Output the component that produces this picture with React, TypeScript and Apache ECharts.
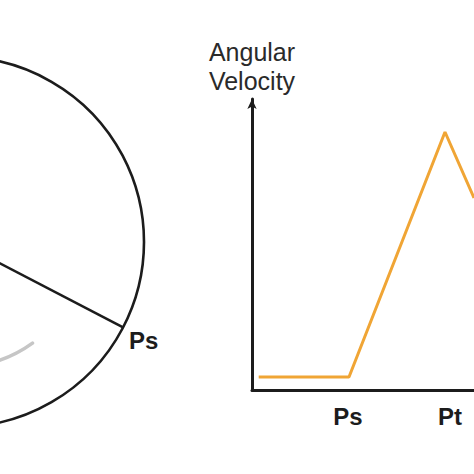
import React, { useEffect, useRef } from "react";
import * as echarts from "echarts";

// Angular velocity profile: flat, rising after Ps, peaking near Pt
const timeValues = [0.067, 0.97, 1.93, 2.22];
const velocityValues = [0.13, 0.13, 2.58, 1.92];

// Phase markers along the time axis
const xTickValues = [0.96, 1.98];
const xTickLabels = ["Ps", "Pt"];

const yAxisTitle = "Angular\nVelocity";
const pointLabel = "Ps";

const INK = "#1c1c1c";
const ORANGE = "#F0A535";
const FONT = "'Liberation Sans', Arial, Helvetica, sans-serif";

export default function App() {
  const ref = useRef<HTMLDivElement>(null);

  useEffect(() => {
    if (!ref.current) return;
    const chart = echarts.init(ref.current, undefined, { renderer: "svg" });

    // Rotating disc: centre sits just off the left edge
    const cx = -41;
    const cy = 242;
    const r = 185;
    const rayAngle = (27.5 * Math.PI) / 180;
    const px = cx + r * Math.cos(rayAngle);
    const py = cy + r * Math.sin(rayAngle);

    chart.setOption({
      animation: false,
      backgroundColor: "#ffffff",
      grid: { left: 252, right: 0, top: 99, bottom: 84, containLabel: false },
      xAxis: {
        type: "value",
        min: 0,
        max: 2.22,
        axisLine: { show: true, lineStyle: { color: INK, width: 3 } },
        axisTick: { show: false },
        splitLine: { show: false },
        axisLabel: {
          show: true,
          customValues: xTickValues,
          formatter: (v: number) => {
            let best = 0;
            xTickValues.forEach((t, i) => {
              if (Math.abs(t - v) < Math.abs(xTickValues[best] - v)) best = i;
            });
            return xTickLabels[best];
          },
          margin: 14,
          color: INK,
          fontFamily: FONT,
          fontWeight: "bold",
          fontSize: 24,
        },
      },
      yAxis: {
        type: "value",
        min: 0,
        max: 2.91,
        name: yAxisTitle,
        nameLocation: "end",
        nameGap: 4,
        nameTextStyle: {
          color: "#2a2a2a",
          fontFamily: FONT,
          fontSize: 25,
          lineHeight: 29,
          align: "center",
          verticalAlign: "bottom",
        },
        axisLine: {
          show: true,
          symbol: ["none", "arrow"],
          symbolSize: [7, 10],
          lineStyle: { color: INK, width: 3 },
        },
        axisTick: { show: false },
        axisLabel: { show: false },
        splitLine: { show: false },
      },
      series: [
        {
          type: "line",
          data: timeValues.map((t, i) => [t, velocityValues[i]]),
          showSymbol: false,
          lineStyle: { color: ORANGE, width: 3 },
          clip: false,
        },
      ],
      graphic: [
        {
          type: "circle",
          shape: { cx, cy, r },
          style: { fill: "none", stroke: INK, lineWidth: 2.6 },
          silent: true,
        },
        {
          type: "line",
          shape: { x1: cx, y1: cy, x2: px, y2: py },
          style: { stroke: INK, lineWidth: 2.6 },
          silent: true,
        },
        {
          type: "arc",
          shape: {
            cx,
            cy,
            r: 125,
            startAngle: (54 * Math.PI) / 180,
            endAngle: (110 * Math.PI) / 180,
            clockwise: true,
          },
          style: { fill: "none", stroke: "#c6c6c6", lineWidth: 3.5, lineCap: "round" },
          silent: true,
        },
        {
          type: "text",
          x: 129,
          y: 340,
          style: {
            text: pointLabel,
            fill: INK,
            font: `bold 24px ${FONT}`,
            textAlign: "left",
            textVerticalAlign: "middle",
          },
          silent: true,
        },
      ],
    });

    return () => chart.dispose();
  }, []);

  return <div ref={ref} style={{ width: 474, height: 474, position: "absolute", left: 0, top: 0 }} />;
}
